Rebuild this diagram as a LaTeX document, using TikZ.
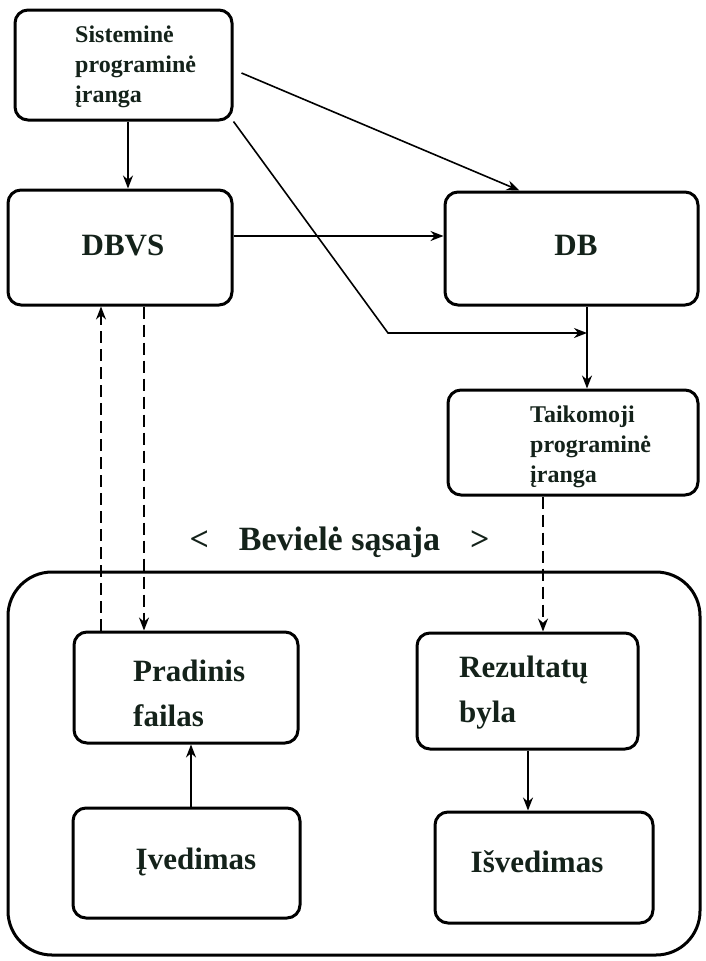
\documentclass[tikz,border=0pt]{standalone}
\usepackage{fontspec}
\setmainfont{Liberation Serif}
\usetikzlibrary{arrows.meta,calc}
\definecolor{ink}{RGB}{20,34,26}
\begin{document}
\begin{tikzpicture}[x=1pt,y=-1pt,
  box/.style={draw=black, line width=3pt, rounded corners=13pt, inner sep=0pt},
  conn/.style={line width=1.6pt, -{Stealth[length=13pt,width=10pt]}},
  dashconn/.style={conn, dash pattern=on 12pt off 6pt},
  small/.style={font=\bfseries\fontsize{24}{30}\selectfont, text=ink, align=left, inner sep=0pt, anchor=west},
  big/.style={font=\bfseries\fontsize{31}{45}\selectfont, text=ink, align=left, inner sep=0pt},
]
\useasboundingbox (0,0) rectangle (706,961);

% upper part: software and database
\node[box, minimum width=217pt, minimum height=110pt] (sis) at (123.5,65) {};
\node[small] (sist) at (75,67) {Sisteminė\\programinė\\įranga};
\node[box, minimum width=224pt, minimum height=115pt] (dbvs) at (120,247.5) {};
\node[big] (dbvst) at (123,245) {DBVS};
\node[box, minimum width=253pt, minimum height=113pt] (db) at (571.5,248.5) {};
\node[big] (dbt) at (576,245) {DB};
\node[box, minimum width=250pt, minimum height=105pt] (taik) at (573,442.5) {};
\node[small] (taikt) at (530,447) {Taikomoji\\programinė\\įranga};

% wireless interface caption
\node[font=\bfseries\fontsize{34}{40}\selectfont, text=ink, inner sep=0pt] (iface) at (339.5,542)
  {<\hspace{30pt}Bevielė sąsaja\hspace{30pt}>};

% device with its files
\node[draw=black, line width=3pt, rounded corners=44pt, minimum width=692pt, minimum height=383pt, inner sep=0pt] (dev) at (354,763.5) {};
\node[box, minimum width=224pt, minimum height=111pt] (prad) at (186,687.5) {};
\node[big, anchor=west] (pradt) at (133,693) {Pradinis\\failas};
\node[box, minimum width=221pt, minimum height=116pt] (rez) at (527.5,691) {};
\node[big, anchor=west] (rezt) at (459,693) {Rezultatų\\byla};
\node[box, minimum width=227pt, minimum height=110pt] (ived) at (186.5,863) {};
\node[big] (ivedt) at (196,862) {Įvedimas};
\node[box, minimum width=218pt, minimum height=111pt] (isved) at (544,867.5) {};
\node[big] (isvedt) at (537,862) {Išvedimas};

% connector end points
\coordinate (sisout) at ([xshift=8pt,yshift=-8pt]sis.east);
\coordinate (dbvsout) at ([yshift=11.5pt]dbvs.east);
\coordinate (bend) at (388,333);
\coordinate (join) at (587,333);

% connectors
\draw[conn] ([xshift=4.5pt]sis.south) -- ([xshift=4.5pt]sis.south |- dbvs.north);
\draw[conn] (sisout) -- ([xshift=-52pt]db.north);
\draw[conn] (dbvsout) -- (db.west |- dbvsout);
\draw[conn] (sis.south east) -- (bend) -- (join);
\draw[conn] ([xshift=15.5pt]db.south) -- ([xshift=15.5pt]db.south |- taik.north);
\draw[dashconn] ([xshift=-30pt]taik.south) -- ([xshift=-30pt]taik.south |- rez.north);
\draw[dashconn] ([xshift=-85pt]prad.north) -- ([xshift=-85pt]prad.north |- dbvs.south);
\draw[dashconn] ([xshift=-42pt]prad.north |- dbvs.south) -- ([xshift=-42pt]prad.north);
\draw[conn] ([xshift=4.5pt]ived.north) -- ([xshift=4.5pt]ived.north |- prad.south);
\draw[conn] ([xshift=0.5pt]rez.south) -- ([xshift=0.5pt]rez.south |- isved.north);
\end{tikzpicture}
\end{document}
